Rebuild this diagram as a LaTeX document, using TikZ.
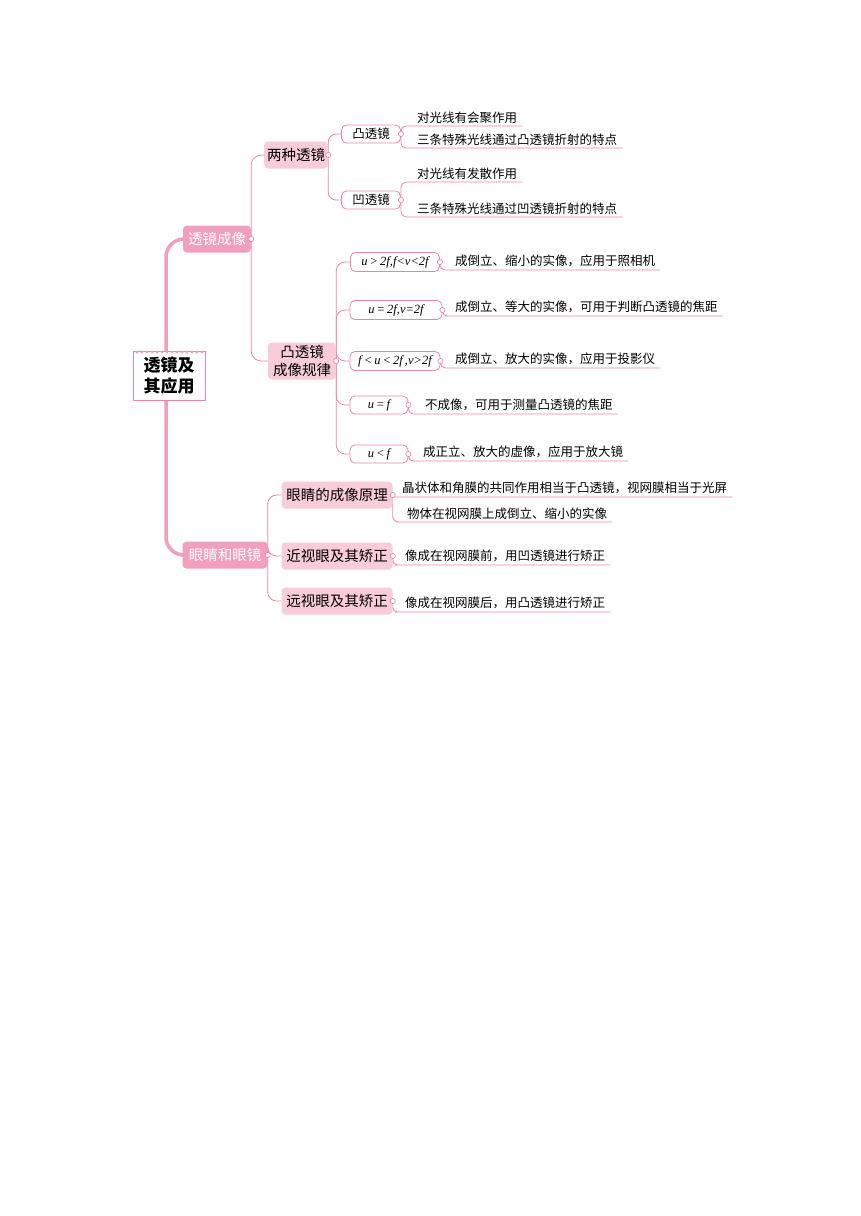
\documentclass[tikz,border=0pt]{standalone}
\usepackage{fontspec}
\setmainfont{Noto Sans CJK SC}
\newfontfamily\tms{Liberation Serif}
\usetikzlibrary{backgrounds}
\definecolor{pinkdark}{HTML}{F29EBD}
\definecolor{pinklight}{HTML}{F9CCDA}
\definecolor{pinkline}{HTML}{E886A8}
\tikzset{
	rootbox/.style={draw=pinkline, fill=white, line width=0.8pt, minimum width=72, minimum height=49, inner sep=0pt, align=center, font=\fontsize{17}{21}\selectfont\bfseries},
	mainbranch/.style={fill=pinkdark, text=white, rounded corners=4pt, minimum height=27, inner xsep=0pt, font=\fontsize{14.5}{17}\selectfont},
	subbranch/.style={fill=pinklight, rounded corners=4pt, minimum height=27, inner xsep=0pt, inner ysep=1pt, align=center, font=\fontsize{14.5}{18}\selectfont},
	topic/.style={draw=pinkline, fill=white, line width=0.8pt, rounded corners=5pt, minimum height=18, inner sep=0pt, font=\fontsize{12.5}{14}\selectfont},
	cond/.style={topic, font=\fontsize{12.5}{14}\selectfont\tms\itshape},
	leaf/.style={anchor=south west, inner xsep=5pt, inner ysep=2.5pt, font=\fontsize{12.5}{14}\selectfont},
	link/.style={draw=pinkline, line width=0.8pt},
	trunk/.style={draw=pinkdark, line width=3.5pt, rounded corners=18pt},
	knob/.style={draw=pinkline, fill=white, line width=0.7pt}
}
\begin{document}
\begin{tikzpicture}[x=1pt,y=-1pt]
	\useasboundingbox (0,0) rectangle (860,1216);
	% root and main branches
	\node[rootbox] (root) at (169,376) {透镜及\\其应用};
	\foreach \x in {137,142,...,202}
		\fill[pinkdark] (\x,352) circle[radius=1.6];
	\node[mainbranch, minimum width=68] (b1) at (217,239) {透镜成像};
	\node[mainbranch, minimum width=85] (b2) at (225,555) {眼睛和眼镜};
	% second level
	\node[subbranch, minimum width=64] (s1) at (296,155) {两种透镜};
	\node[subbranch, minimum width=68, minimum height=37] (s2) at (302,361) {凸透镜\\成像规律};
	\node[subbranch, minimum width=111] (s3) at (337,495) {眼睛的成像原理};
	\node[subbranch, minimum width=111] (s4) at (337,556) {近视眼及其矫正};
	\node[subbranch, minimum width=111] (s5) at (337,601) {远视眼及其矫正};
	% third level
	\node[topic, minimum width=59] (t1) at (371,134) {凸透镜};
	\node[topic, minimum width=59] (t2) at (371,200) {凹透镜};
	\node[cond, minimum width=89, minimum height=19] (c1) at (395,262) {u\,>\,2f,f<v<2f};
	\node[cond, minimum width=92, minimum height=19] (c2) at (396,310) {u\,=\,2f,v=2f};
	\node[cond, minimum width=90, minimum height=19] (c3) at (395,361) {f\,<\,u\,<\,2f\,,v>2f};
	\node[cond, minimum width=58] (c4) at (379,405) {u\,=\,f};
	\node[cond, minimum width=58] (c5) at (379,454) {u\,<\,f};
	% leaves
	\node[leaf] (a1) at (412,126) {对光线有会聚作用};
	\node[leaf] (a2) at (412,148) {三条特殊光线通过凸透镜折射的特点};
	\node[leaf] (a3) at (412,182) {对光线有发散作用};
	\node[leaf] (a4) at (412,217) {三条特殊光线通过凹透镜折射的特点};
	\node[leaf] (r1) at (450,270) {成倒立、缩小的实像，应用于照相机};
	\node[leaf] (r2) at (450,316) {成倒立、等大的实像，可用于判断凸透镜的焦距};
	\node[leaf] (r3) at (450,368) {成倒立、放大的实像，应用于投影仪};
	\node[leaf] (r4) at (420,414) {不成像，可用于测量凸透镜的焦距};
	\node[leaf] (r5) at (418,461) {成正立、放大的虚像，应用于放大镜};
	\node[leaf] (e1) at (397,497) {晶状体和角膜的共同作用相当于凸透镜，视网膜相当于光屏};
	\node[leaf] (e2) at (402,522) {物体在视网膜上成倒立、缩小的实像};
	\node[leaf] (e3) at (400,565) {像成在视网膜前，用凹透镜进行矫正};
	\node[leaf] (e4) at (400,612) {像成在视网膜后，用凸透镜进行矫正};
	% connectors
	\begin{scope}[on background layer]
		\fill[white] (0,0) rectangle (860,1216);
		\draw[trunk] (b1.center) -| (166,376) |- (b2.center);
		\draw[link, rounded corners=10pt] (b1.east) |- (s1.west);
		\draw[link, rounded corners=10pt] (b1.east) |- (s2.west);
		\draw[link, rounded corners=9pt] (b2.east) |- (s3.west);
		\draw[link, rounded corners=9pt] (b2.east) |- (s4.west);
		\draw[link, rounded corners=9pt] (b2.east) |- (s5.west);
		\draw[link, rounded corners=8pt] (s1.east) |- (t1.west);
		\draw[link, rounded corners=8pt] (s1.east) |- (t2.west);
		\foreach \c in {c1,c2,c3,c4,c5}
			\draw[link, rounded corners=9pt] (s2.east) |- (\c.west);
		\draw[link, rounded corners=5pt] (t1.east) |- (a1.south west) -- (a1.south east);
		\draw[link, rounded corners=5pt] (t1.east) |- (a2.south west) -- (a2.south east);
		\draw[link, rounded corners=6pt] (t2.east) |- (a3.south west) -- (a3.south east);
		\draw[link, rounded corners=6pt] (t2.east) |- (a4.south west) -- (a4.south east);
		\draw[link, rounded corners=5pt] (c1.east) |- (r1.south west) -- (r1.south east);
		\draw[link, rounded corners=5pt] (c2.east) |- (r2.south west) -- (r2.south east);
		\draw[link, rounded corners=5pt] (c3.east) |- (r3.south west) -- (r3.south east);
		\draw[link, rounded corners=5pt] (c4.east) |- (r4.south west) -- (r4.south east);
		\draw[link, rounded corners=5pt] (c5.east) |- (r5.south west) -- (r5.south east);
		\draw[link, rounded corners=2pt] (s3.east) |- (e1.south west) -- (e1.south east);
		\draw[link, rounded corners=6pt] (s3.east) |- (e2.south west) -- (e2.south east);
		\draw[link, rounded corners=5pt] (s4.east) |- (e3.south west) -- (e3.south east);
		\draw[link, rounded corners=5pt] (s5.east) |- (e4.south west) -- (e4.south east);
	\end{scope}
	\foreach \n in {b1,b2,s1,s2,s3,s4,s5,t1,t2,c1,c2,c3,c4,c5}
		\draw[knob] (\n.east) circle[radius=2.6];
\end{tikzpicture}
\end{document}
